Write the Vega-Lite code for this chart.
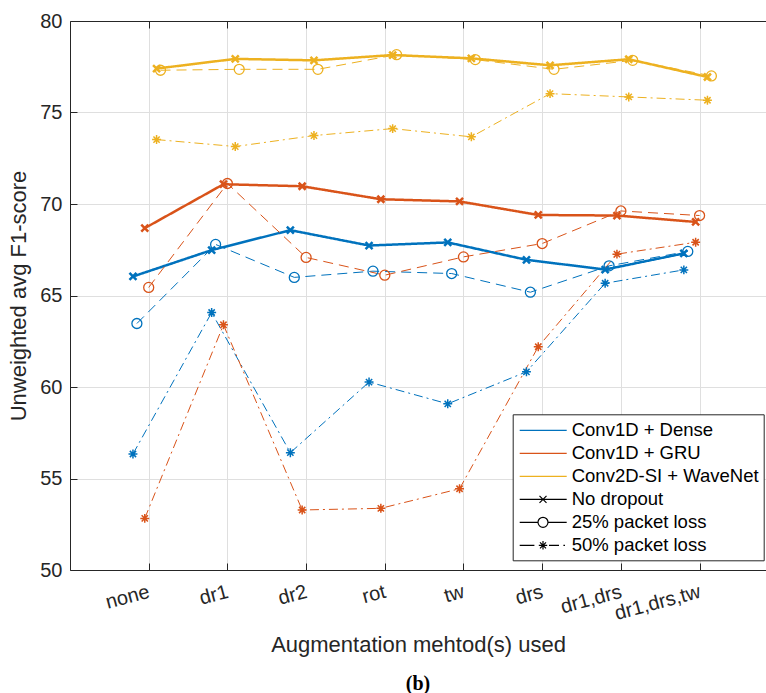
{
  "$schema": "https://vega.github.io/schema/vega-lite/v6.json",
  "width": 696,
  "height": 549,
  "autosize": {"type": "none"},
  "padding": {"left": 70, "top": 21, "right": 0, "bottom": 123},
  "background": "white",
  "config": {"font": "Liberation Sans", "view": {"stroke": null}},
  "title": {"text": "(b)", "orient": "bottom", "anchor": "middle", "frame": "group", "offset": 19, "baseline": "top", "font": "Liberation Serif", "fontSize": 20, "fontWeight": "bold", "color": "#000000"},
  "data": {"values": [
    {"model": "Conv1D + Dense", "dropout": "No dropout", "x": 0.8, "f1": 66.04},
    {"model": "Conv1D + Dense", "dropout": "No dropout", "x": 1.8, "f1": 67.48},
    {"model": "Conv1D + Dense", "dropout": "No dropout", "x": 2.8, "f1": 68.57},
    {"model": "Conv1D + Dense", "dropout": "No dropout", "x": 3.8, "f1": 67.73},
    {"model": "Conv1D + Dense", "dropout": "No dropout", "x": 4.8, "f1": 67.90},
    {"model": "Conv1D + Dense", "dropout": "No dropout", "x": 5.8, "f1": 66.95},
    {"model": "Conv1D + Dense", "dropout": "No dropout", "x": 6.8, "f1": 66.42},
    {"model": "Conv1D + Dense", "dropout": "No dropout", "x": 7.8, "f1": 67.30},
    {"model": "Conv1D + Dense", "dropout": "25% packet loss", "x": 0.85, "f1": 63.47},
    {"model": "Conv1D + Dense", "dropout": "25% packet loss", "x": 1.85, "f1": 67.79},
    {"model": "Conv1D + Dense", "dropout": "25% packet loss", "x": 2.85, "f1": 65.99},
    {"model": "Conv1D + Dense", "dropout": "25% packet loss", "x": 3.85, "f1": 66.33},
    {"model": "Conv1D + Dense", "dropout": "25% packet loss", "x": 4.85, "f1": 66.20},
    {"model": "Conv1D + Dense", "dropout": "25% packet loss", "x": 5.85, "f1": 65.18},
    {"model": "Conv1D + Dense", "dropout": "25% packet loss", "x": 6.85, "f1": 66.62},
    {"model": "Conv1D + Dense", "dropout": "25% packet loss", "x": 7.85, "f1": 67.41},
    {"model": "Conv1D + Dense", "dropout": "50% packet loss", "x": 0.8, "f1": 56.34},
    {"model": "Conv1D + Dense", "dropout": "50% packet loss", "x": 1.8, "f1": 64.07},
    {"model": "Conv1D + Dense", "dropout": "50% packet loss", "x": 2.8, "f1": 56.41},
    {"model": "Conv1D + Dense", "dropout": "50% packet loss", "x": 3.8, "f1": 60.27},
    {"model": "Conv1D + Dense", "dropout": "50% packet loss", "x": 4.8, "f1": 59.08},
    {"model": "Conv1D + Dense", "dropout": "50% packet loss", "x": 5.8, "f1": 60.83},
    {"model": "Conv1D + Dense", "dropout": "50% packet loss", "x": 6.8, "f1": 65.67},
    {"model": "Conv1D + Dense", "dropout": "50% packet loss", "x": 7.8, "f1": 66.40},
    {"model": "Conv1D + GRU", "dropout": "No dropout", "x": 0.95, "f1": 68.68},
    {"model": "Conv1D + GRU", "dropout": "No dropout", "x": 1.95, "f1": 71.08},
    {"model": "Conv1D + GRU", "dropout": "No dropout", "x": 2.95, "f1": 70.97},
    {"model": "Conv1D + GRU", "dropout": "No dropout", "x": 3.95, "f1": 70.26},
    {"model": "Conv1D + GRU", "dropout": "No dropout", "x": 4.95, "f1": 70.14},
    {"model": "Conv1D + GRU", "dropout": "No dropout", "x": 5.95, "f1": 69.40},
    {"model": "Conv1D + GRU", "dropout": "No dropout", "x": 6.95, "f1": 69.37},
    {"model": "Conv1D + GRU", "dropout": "No dropout", "x": 7.95, "f1": 69.02},
    {"model": "Conv1D + GRU", "dropout": "25% packet loss", "x": 1.0, "f1": 65.44},
    {"model": "Conv1D + GRU", "dropout": "25% packet loss", "x": 2.0, "f1": 71.12},
    {"model": "Conv1D + GRU", "dropout": "25% packet loss", "x": 3.0, "f1": 67.08},
    {"model": "Conv1D + GRU", "dropout": "25% packet loss", "x": 4.0, "f1": 66.11},
    {"model": "Conv1D + GRU", "dropout": "25% packet loss", "x": 5.0, "f1": 67.11},
    {"model": "Conv1D + GRU", "dropout": "25% packet loss", "x": 6.0, "f1": 67.84},
    {"model": "Conv1D + GRU", "dropout": "25% packet loss", "x": 7.0, "f1": 69.62},
    {"model": "Conv1D + GRU", "dropout": "25% packet loss", "x": 8.0, "f1": 69.37},
    {"model": "Conv1D + GRU", "dropout": "50% packet loss", "x": 0.95, "f1": 52.82},
    {"model": "Conv1D + GRU", "dropout": "50% packet loss", "x": 1.95, "f1": 63.40},
    {"model": "Conv1D + GRU", "dropout": "50% packet loss", "x": 2.95, "f1": 53.28},
    {"model": "Conv1D + GRU", "dropout": "50% packet loss", "x": 3.95, "f1": 53.37},
    {"model": "Conv1D + GRU", "dropout": "50% packet loss", "x": 4.95, "f1": 54.44},
    {"model": "Conv1D + GRU", "dropout": "50% packet loss", "x": 5.95, "f1": 62.20},
    {"model": "Conv1D + GRU", "dropout": "50% packet loss", "x": 6.95, "f1": 67.26},
    {"model": "Conv1D + GRU", "dropout": "50% packet loss", "x": 7.95, "f1": 67.91},
    {"model": "Conv2D-SI + WaveNet", "dropout": "No dropout", "x": 1.1, "f1": 77.40},
    {"model": "Conv2D-SI + WaveNet", "dropout": "No dropout", "x": 2.1, "f1": 77.93},
    {"model": "Conv2D-SI + WaveNet", "dropout": "No dropout", "x": 3.1, "f1": 77.85},
    {"model": "Conv2D-SI + WaveNet", "dropout": "No dropout", "x": 4.1, "f1": 78.14},
    {"model": "Conv2D-SI + WaveNet", "dropout": "No dropout", "x": 5.1, "f1": 77.96},
    {"model": "Conv2D-SI + WaveNet", "dropout": "No dropout", "x": 6.1, "f1": 77.58},
    {"model": "Conv2D-SI + WaveNet", "dropout": "No dropout", "x": 7.1, "f1": 77.91},
    {"model": "Conv2D-SI + WaveNet", "dropout": "No dropout", "x": 8.1, "f1": 76.94},
    {"model": "Conv2D-SI + WaveNet", "dropout": "25% packet loss", "x": 1.15, "f1": 77.31},
    {"model": "Conv2D-SI + WaveNet", "dropout": "25% packet loss", "x": 2.15, "f1": 77.36},
    {"model": "Conv2D-SI + WaveNet", "dropout": "25% packet loss", "x": 3.15, "f1": 77.36},
    {"model": "Conv2D-SI + WaveNet", "dropout": "25% packet loss", "x": 4.15, "f1": 78.16},
    {"model": "Conv2D-SI + WaveNet", "dropout": "25% packet loss", "x": 5.15, "f1": 77.89},
    {"model": "Conv2D-SI + WaveNet", "dropout": "25% packet loss", "x": 6.15, "f1": 77.36},
    {"model": "Conv2D-SI + WaveNet", "dropout": "25% packet loss", "x": 7.15, "f1": 77.85},
    {"model": "Conv2D-SI + WaveNet", "dropout": "25% packet loss", "x": 8.15, "f1": 77.00},
    {"model": "Conv2D-SI + WaveNet", "dropout": "50% packet loss", "x": 1.1, "f1": 73.52},
    {"model": "Conv2D-SI + WaveNet", "dropout": "50% packet loss", "x": 2.1, "f1": 73.14},
    {"model": "Conv2D-SI + WaveNet", "dropout": "50% packet loss", "x": 3.1, "f1": 73.74},
    {"model": "Conv2D-SI + WaveNet", "dropout": "50% packet loss", "x": 4.1, "f1": 74.12},
    {"model": "Conv2D-SI + WaveNet", "dropout": "50% packet loss", "x": 5.1, "f1": 73.67},
    {"model": "Conv2D-SI + WaveNet", "dropout": "50% packet loss", "x": 6.1, "f1": 76.03},
    {"model": "Conv2D-SI + WaveNet", "dropout": "50% packet loss", "x": 7.1, "f1": 75.85},
    {"model": "Conv2D-SI + WaveNet", "dropout": "50% packet loss", "x": 8.1, "f1": 75.67}
  ]},
  "resolve": {"axis": {"x": "independent"}},
  "layer": [
    {
      "mark": {"type": "line"},
      "encoding": {
        "x": {"field": "x", "type": "quantitative",
          "scale": {"domain": [0, 8.844], "nice": false, "zero": false},
          "axis": {"orient": "bottom", "values": [1, 2, 3, 4, 5, 6, 7, 8],
            "labelExpr": "['','none','dr1','dr2','rot','tw','drs','dr1,drs','dr1,drs,tw'][datum.value]",
            "labelAngle": -15, "labelAlign": "right", "labelBaseline": "middle",
            "labelFontSize": 20, "labelColor": "#262626", "labelPadding": 28,
            "labelFlush": false, "labelOverlap": false, "labelBound": false,
            "tickSize": -7, "tickColor": "#262626", "domainColor": "#262626",
            "grid": true, "gridColor": "#dfdfdf",
            "title": "Augmentation mehtod(s) used", "titleFontSize": 22, "titleFontWeight": "normal",
            "titleColor": "#262626", "titleBaseline": "alphabetic", "titleY": 81}},
        "y": {"field": "f1", "type": "quantitative",
          "scale": {"domain": [50, 80], "nice": false, "zero": false},
          "axis": {"values": [50, 55, 60, 65, 70, 75, 80],
            "labelFontSize": 20, "labelColor": "#262626", "labelPadding": 15, "labelFlush": false,
            "tickSize": -7, "tickColor": "#262626", "domainColor": "#262626",
            "grid": true, "gridColor": "#dfdfdf",
            "title": "Unweighted avg F1-score", "titleFontSize": 22, "titleFontWeight": "normal",
            "titleColor": "#262626", "titlePadding": 9}},
        "color": {"field": "model", "type": "nominal"},
        "strokeDash": {"field": "dropout", "type": "nominal",
          "scale": {"domain": ["No dropout", "25% packet loss", "50% packet loss"], "range": [[1, 0], [10, 6], [9, 4, 2, 4]]},
          "legend": null},
        "strokeWidth": {"field": "dropout", "type": "nominal",
          "scale": {"type": "ordinal", "domain": ["No dropout", "25% packet loss", "50% packet loss"], "range": [2.5, 1, 1]},
          "legend": null}
      }
    },
    {
      "transform": [{"filter": "datum.dropout === 'No dropout'"}],
      "mark": {"type": "point", "shape": "M-1,-1L1,1M-1,1L1,-1", "size": 49, "strokeWidth": 2.5, "filled": false, "opacity": 1},
      "encoding": {
        "x": {"field": "x", "type": "quantitative", "axis": null},
        "y": {"field": "f1", "type": "quantitative"},
        "color": {"field": "model", "type": "nominal"}
      }
    },
    {
      "transform": [{"filter": "datum.dropout === '25% packet loss'"}],
      "mark": {"type": "point", "shape": "circle", "size": 100, "strokeWidth": 1.3, "filled": false, "opacity": 1},
      "encoding": {
        "x": {"field": "x", "type": "quantitative", "axis": null},
        "y": {"field": "f1", "type": "quantitative"},
        "color": {"field": "model", "type": "nominal"}
      }
    },
    {
      "transform": [{"filter": "datum.dropout === '50% packet loss'"}],
      "mark": {"type": "point", "shape": "M-1,0H1M0,-1V1M-0.7,-0.7L0.7,0.7M-0.7,0.7L0.7,-0.7", "size": 80, "strokeWidth": 1.5, "filled": false, "opacity": 1},
      "encoding": {
        "x": {"field": "x", "type": "quantitative", "axis": null},
        "y": {"field": "f1", "type": "quantitative"},
        "color": {"field": "model", "type": "nominal"}
      }
    },
    {
      "transform": [{"filter": "false"}],
      "mark": {"type": "point", "filled": false, "opacity": 1},
      "encoding": {
        "x": {"field": "x", "type": "quantitative",
          "axis": {"orient": "top", "values": [1, 2, 3, 4, 5, 6, 7, 8], "labels": false, "tickSize": -7,
            "tickColor": "#262626", "domainColor": "#262626", "grid": false, "title": null}},
        "color": {"field": "entry", "type": "nominal",
          "scale": {"domain": ["Conv1D + Dense", "Conv1D + GRU", "Conv2D-SI + WaveNet", "No dropout", "25% packet loss", "50% packet loss"],
            "range": ["#0072BD", "#D95319", "#EDB120", "#000000", "#000000", "#000000"]},
          "legend": {"orient": "none", "legendX": 442.7, "legendY": 393.3, "title": null, "padding": 5,
            "strokeColor": "#262626", "fillColor": "#ffffff", "symbolSize": 400, "symbolStrokeWidth": 1.2,
            "labelFont": "Liberation Sans", "labelFontSize": 18.5, "labelColor": "#000000", "labelOffset": 32,
            "rowPadding": 2, "labelLimit": 400, "direction": "vertical", "symbolOpacity": 1}},
        "shape": {"field": "entry", "type": "nominal",
          "scale": {"domain": ["Conv1D + Dense", "Conv1D + GRU", "Conv2D-SI + WaveNet", "No dropout", "25% packet loss", "50% packet loss"],
            "range": ["M-0.9,0H3.8", "M-0.9,0H3.8", "M-0.9,0H3.8",
              "M-0.9,0H3.8M1.08,-0.35L1.78,0.35M1.08,0.35L1.78,-0.35",
              "M-0.9,0H0.93M1.93,0H3.8M1.93,0A0.5,0.5,0,1,1,0.93,0A0.5,0.5,0,1,1,1.93,0",
              "M-0.9,0H0.57M1.01,0H1.85M1.43,-0.42V0.42M1.13,-0.3L1.73,0.3M1.13,0.3L1.73,-0.3M2.03,0H3.03M3.47,0H3.63"]},
          "legend": {"orient": "none", "legendX": 442.7, "legendY": 393.3, "title": null, "padding": 5,
            "strokeColor": "#262626", "fillColor": "#ffffff", "symbolSize": 400, "symbolStrokeWidth": 1.2,
            "labelFont": "Liberation Sans", "labelFontSize": 18.5, "labelColor": "#000000", "labelOffset": 32,
            "rowPadding": 2, "labelLimit": 400, "direction": "vertical", "symbolOpacity": 1}}
      }
    }
  ]
}
